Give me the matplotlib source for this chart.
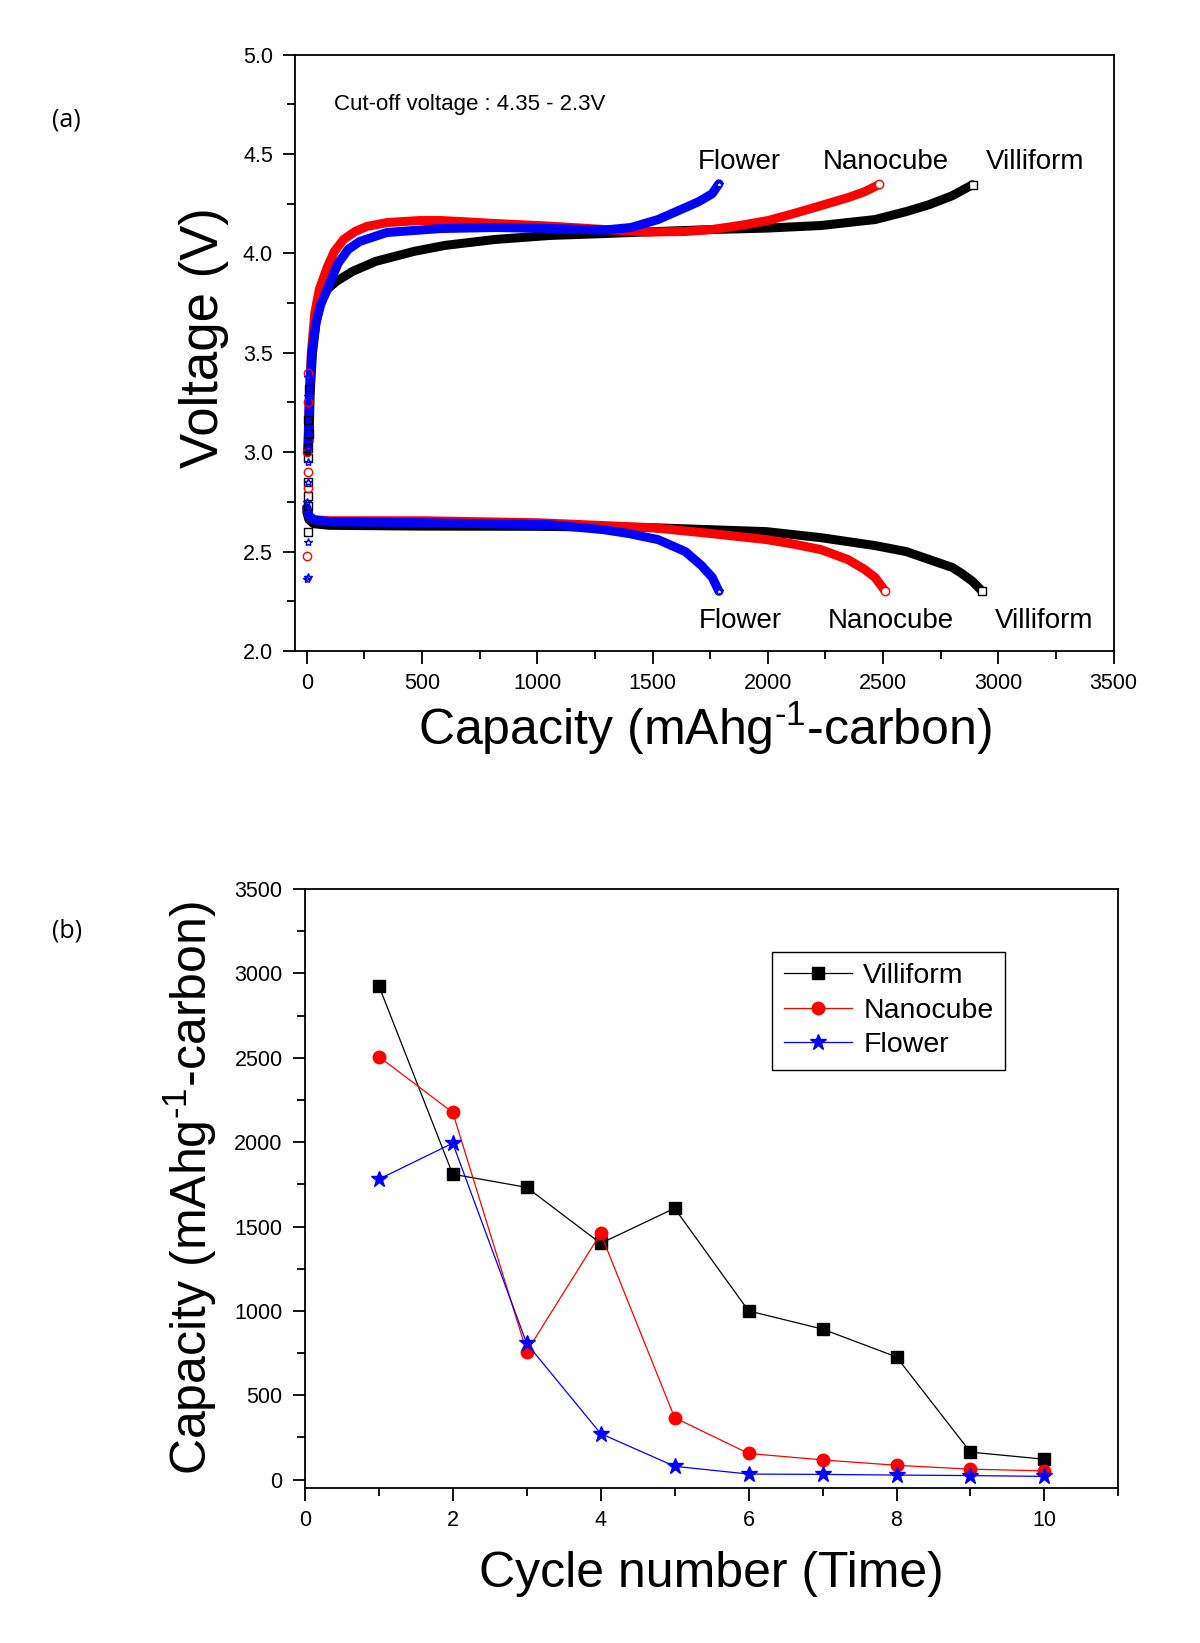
import numpy as np
import matplotlib
matplotlib.use("Agg")
import matplotlib.pyplot as plt
from matplotlib.ticker import MultipleLocator, FormatStrFormatter

# ---------------- (a) charge / discharge profiles ----------------
# charge branch (capacity mAh/g, voltage V)
villiChgCap = [10, 15, 25, 40, 60, 90, 130, 200, 300, 466, 600, 818, 1054, 1300, 1524, 1760, 1995, 2230, 2465, 2600, 2700, 2800, 2888]
villiChgV = [3.05, 3.30, 3.50, 3.65, 3.75, 3.82, 3.86, 3.91, 3.96, 4.01, 4.04, 4.07, 4.09, 4.10, 4.11, 4.12, 4.127, 4.14, 4.17, 4.21, 4.245, 4.29, 4.345]
nanoChgCap = [5, 12, 20, 35, 55, 89, 120, 160, 210, 260, 348, 489, 583, 700, 818, 1054, 1289, 1477, 1642, 1760, 1877, 2000, 2112, 2230, 2347, 2420, 2484]
nanoChgV = [3.0, 3.3, 3.5, 3.7, 3.82, 3.93, 4.01, 4.07, 4.11, 4.135, 4.155, 4.165, 4.165, 4.158, 4.15, 4.137, 4.12, 4.107, 4.11, 4.12, 4.14, 4.165, 4.2, 4.24, 4.28, 4.31, 4.347]
flowChgCap = [5, 12, 22, 40, 60, 89, 136, 180, 230, 348, 583, 818, 1054, 1289, 1406, 1524, 1642, 1700, 1759, 1788]
flowChgV = [3.0, 3.3, 3.5, 3.65, 3.74, 3.82, 3.95, 4.02, 4.06, 4.105, 4.125, 4.13, 4.125, 4.117, 4.13, 4.17, 4.23, 4.26, 4.30, 4.35]

# discharge branch
villiDisCap = [0, 10, 30, 100, 500, 1000, 1500, 1995, 2230, 2465, 2600, 2700, 2800, 2841, 2888, 2930]
villiDisV = [2.70, 2.66, 2.64, 2.632, 2.628, 2.627, 2.62, 2.60, 2.57, 2.53, 2.50, 2.46, 2.42, 2.39, 2.35, 2.30]
nanoDisCap = [0, 10, 30, 100, 500, 1000, 1500, 1759, 1995, 2100, 2230, 2347, 2420, 2465, 2510]
nanoDisV = [2.72, 2.68, 2.66, 2.655, 2.655, 2.645, 2.62, 2.59, 2.56, 2.54, 2.51, 2.46, 2.41, 2.37, 2.30]
flowDisCap = [0, 10, 30, 100, 500, 1054, 1289, 1400, 1524, 1642, 1712, 1759, 1788]
flowDisV = [2.72, 2.68, 2.66, 2.65, 2.645, 2.635, 2.61, 2.59, 2.56, 2.50, 2.43, 2.37, 2.30]

# scattered first points near zero capacity
villiInitCap = [5, 6, 4, 7, 5, 6, 8, 6, 9]
villiInitV = [2.60, 2.73, 2.78, 2.85, 2.97, 3.02, 3.09, 3.16, 3.32]
nanoInitCap = [3, 4, 5, 3, 5, 6]
nanoInitV = [2.48, 2.82, 2.90, 3.0, 3.25, 3.40]
flowInitCap = [2, 4, 4, 6, 3, 5, 7, 4, 6, 8, 5, 7]
flowInitV = [2.36, 2.37, 2.55, 2.70, 2.75, 2.85, 2.95, 3.02, 3.10, 3.20, 3.28, 3.38]

# ---------------- (b) cycling ----------------
cycles = [1, 2, 3, 4, 5, 6, 7, 8, 9, 10]
villiCyc = [2928, 1810, 1732, 1400, 1608, 1000, 892, 727, 163, 121]
nanoCyc = [2507, 2176, 758, 1459, 367, 155, 117, 85, 62, 52]
flowCyc = [1780, 1994, 807, 273, 79, 33, 31, 27, 24, 19]

plt.rcParams['font.family'] = ['Liberation Sans', 'DejaVu Sans']
plt.rcParams['mathtext.fontset'] = 'custom'
plt.rcParams['mathtext.rm'] = 'Liberation Sans'
plt.rcParams['mathtext.it'] = 'Liberation Sans'

capLabel = 'Capacity (mAhg$^{\\mathrm{\u2010}\\mathrm{1}}$-carbon)'


def styleAxes(ax):
    for s in ax.spines.values():
        s.set_linewidth(1.3)
    ax.tick_params(which='both', direction='out', top=False, right=False, width=1.3,
                   labelsize=15.5, pad=7)
    ax.tick_params(which='major', length=9)
    ax.tick_params(which='minor', length=5.5)


fig = plt.figure(figsize=(12, 16.43), dpi=100)

# ---- panel (a)
axA = fig.add_axes([0.246, 0.6038, 0.682, 0.363])
series = [
    (villiChgCap, villiChgV, villiDisCap, villiDisV, villiInitCap, villiInitV, 'black', 's'),
    (nanoChgCap, nanoChgV, nanoDisCap, nanoDisV, nanoInitCap, nanoInitV, 'red', 'o'),
    (flowChgCap, flowChgV, flowDisCap, flowDisV, flowInitCap, flowInitV, 'blue', '*'),
]
for cc, cv, dc, dv, ic, iv, col, mk in series:
    axA.plot(cc, cv, color=col, lw=6.5, solid_capstyle='round', zorder=2)
    axA.plot(dc, dv, color=col, lw=6.5, solid_capstyle='round', zorder=2)
    axA.plot(ic, iv, ls='none', marker=mk, ms=6, mfc='none', mec=col, mew=1, zorder=3)
    axA.plot([cc[-1], dc[-1]], [cv[-1], dv[-1]], ls='none', marker=mk, ms=6,
             mfc='white', mec=col, mew=1, zorder=3)

axA.set_xlim(-50, 3500)
axA.set_ylim(2.0, 5.0)
axA.xaxis.set_major_locator(MultipleLocator(500))
axA.xaxis.set_minor_locator(MultipleLocator(250))
axA.yaxis.set_major_locator(MultipleLocator(0.5))
axA.yaxis.set_minor_locator(MultipleLocator(0.25))
axA.yaxis.set_major_formatter(FormatStrFormatter('%.1f'))
styleAxes(axA)
axA.set_xlabel(capLabel, fontsize=36, labelpad=4)
axA.set_ylabel('Voltage (V)', fontsize=38, labelpad=10)
axA.yaxis.label.set_y(0.526)

axA.text(120, 4.75, 'Cut-off voltage : 4.35 - 2.3V', fontsize=16, va='center')
for lab, xc in [('Flower', 1877), ('Nanocube', 2514), ('Villiform', 3159)]:
    axA.text(xc, 4.457, lab, fontsize=20, ha='center', va='center')
for lab, xc in [('Flower', 1882), ('Nanocube', 2532), ('Villiform', 3200)]:
    axA.text(xc, 2.15, lab, fontsize=20, ha='center', va='center')

# ---- panel (b)
axB = fig.add_axes([0.254, 0.0943, 0.678, 0.3646])
axB.plot(cycles, villiCyc, color='black', lw=0.9, marker='s', ms=9, label='Villiform')
axB.plot(cycles, nanoCyc, color='red', lw=0.9, marker='o', ms=9, label='Nanocube')
axB.plot(cycles, flowCyc, color='blue', lw=0.9, marker='*', ms=12, label='Flower')
axB.set_xlim(0, 11)
axB.set_ylim(-50, 3500)
axB.xaxis.set_major_locator(MultipleLocator(2))
axB.xaxis.set_minor_locator(MultipleLocator(1))
axB.yaxis.set_major_locator(MultipleLocator(500))
axB.yaxis.set_minor_locator(MultipleLocator(250))
styleAxes(axB)
axB.set_xlabel('Cycle number (Time)', fontsize=36, labelpad=14)
axB.set_ylabel(capLabel, fontsize=36, labelpad=11)

leg = axB.legend(loc='upper left', bbox_to_anchor=(0.557, 0.919), fontsize=20.5,
                 fancybox=False, edgecolor='black', framealpha=1,
                 handlelength=2.4, borderpad=0.4, labelspacing=0.3, handletextpad=0.4)
leg.get_frame().set_linewidth(1.0)

fig.text(0.0436, 0.9267, '(a)', fontsize=18, va='center', family=['Open Sans', 'DejaVu Sans'])
fig.text(0.0436, 0.4336, '(b)', fontsize=18, va='center', family=['Open Sans', 'DejaVu Sans'])

fig.savefig('out.png', dpi=100)
